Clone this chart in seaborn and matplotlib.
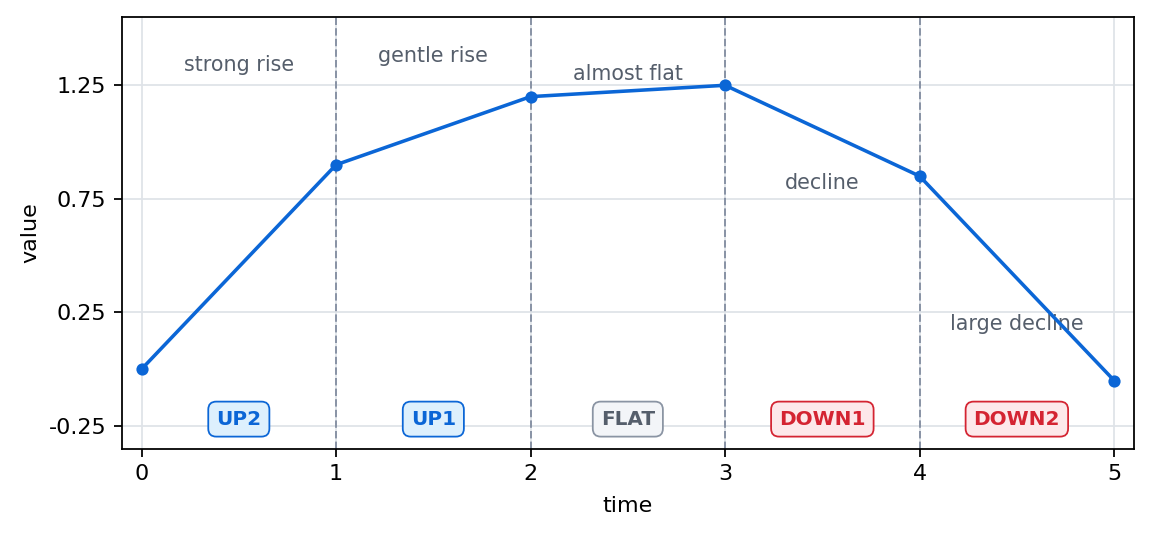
import numpy as np
import pandas as pd
import seaborn as sns
import matplotlib.pyplot as plt

# data
time = [0, 1, 2, 3, 4, 5]
value = [0.0, 0.90, 1.20, 1.25, 0.85, -0.05]

seg_names = ['strong rise', 'gentle rise', 'almost flat', 'decline', 'large decline']
seg_label_y = [1.34, 1.38, 1.30, 0.82, 0.20]
seg_tags = ['UP2', 'UP1', 'FLAT', 'DOWN1', 'DOWN2']
seg_kind = ['up', 'up', 'flat', 'down', 'down']

# text colour, face colour, edge colour
tag_style = {
    'up': ('#0b66d6', '#ddf0fd', '#0b66d6'),
    'flat': ('#555e6b', '#f3f5f8', '#8a94a3'),
    'down': ('#d42432', '#fde8ea', '#d42432'),
}

df = pd.DataFrame({'time': time, 'value': value})

sns.set_style('white')
plt.rcParams['text.color'] = 'black'
plt.rcParams['axes.labelcolor'] = 'black'
plt.rcParams['xtick.color'] = 'black'
plt.rcParams['ytick.color'] = 'black'
fig, ax = plt.subplots(figsize=(7.2, 3.35), dpi=160)

ax.grid(True, color='#dfe3e8', linewidth=0.8)
ax.set_axisbelow(True)

sns.lineplot(data=df, x='time', y='value', ax=ax, color='#0b66d6',
             linewidth=1.6, marker='o', markersize=5.5, markeredgewidth=0,
             zorder=3)

# segment boundaries
for t in time[1:-1]:
    ax.axvline(t, color='#8a94a6', linestyle='--', linewidth=0.9, zorder=2)

for i, name in enumerate(seg_names):
    xm = (time[i] + time[i + 1]) / 2
    ax.text(xm, seg_label_y[i], name, ha='center', va='center',
            fontsize=9.3, color='#555e6b', zorder=1)
    tc, fc, ec = tag_style[seg_kind[i]]
    ax.text(xm, -0.22, seg_tags[i], ha='center', va='center', fontsize=9,
            fontweight='bold', color=tc, zorder=4,
            bbox=dict(boxstyle='round,pad=0.4', fc=fc, ec=ec, lw=0.8))

ax.set_xlim(-0.1, 5.1)
ax.set_ylim(-0.35, 1.55)
ax.set_xticks(time)
ax.set_yticks([-0.25, 0.25, 0.75, 1.25])
ax.set_yticklabels(['-0.25', '0.25', '0.75', '1.25'])
ax.tick_params(axis='both', labelsize=10, length=3.5, width=0.8, left=True, bottom=True)
for s in ax.spines.values():
    s.set_color('black')
    s.set_linewidth(0.8)
ax.set_xlabel('time', fontsize=10, labelpad=5.5)
ax.set_ylabel('value', fontsize=10)

fig.subplots_adjust(left=0.106, right=0.984, top=0.968, bottom=0.163)
fig.savefig('out.png', dpi=160)
